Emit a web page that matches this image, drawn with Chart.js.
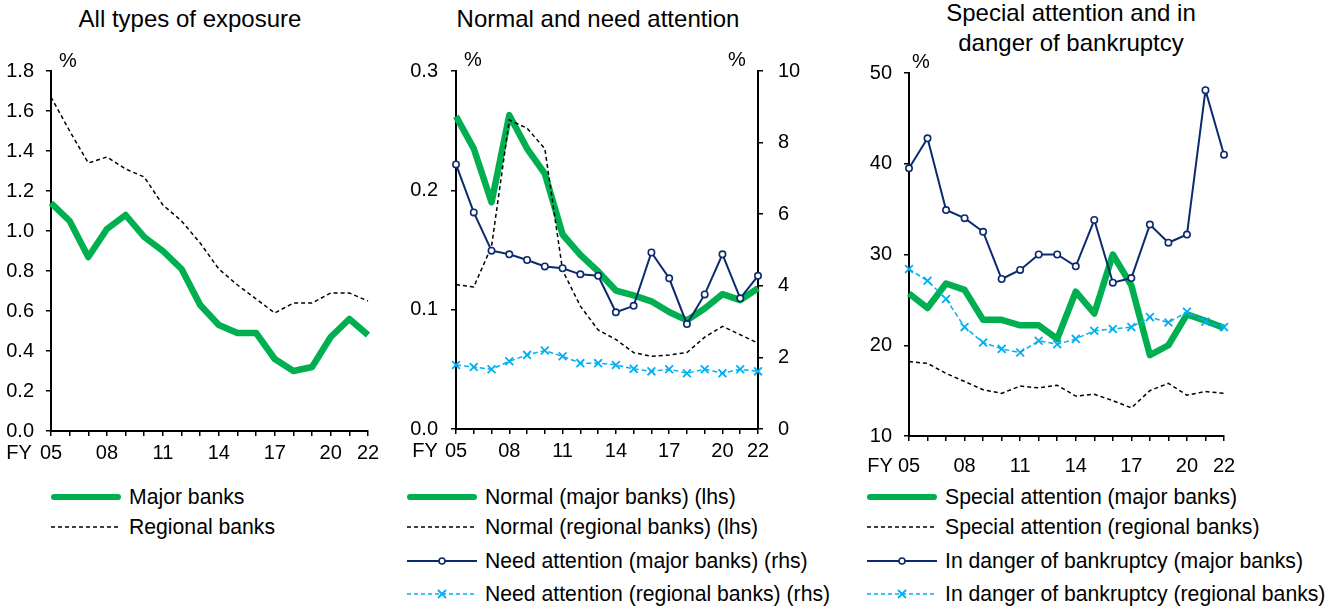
<!DOCTYPE html>
<html><head><meta charset="utf-8">
<script src="https://cdn.jsdelivr.net/npm/chart.js@4.4.0/dist/chart.umd.min.js"></script>
<style>
body{margin:0;width:1330px;height:607px;background:#fff;position:relative;overflow:hidden;font-family:'Liberation Sans',Arial,sans-serif;color:#000;}
.title{position:absolute;font-size:24px;line-height:30px;text-align:center;white-space:nowrap;transform:translateX(-50%);}
canvas{position:absolute;top:0;}
.leg{position:absolute;font-size:21.2px;line-height:24px;height:24px;white-space:nowrap;display:flex;align-items:center;}
.leg svg{margin-right:8px;flex:none;}
</style></head><body>
<div class="title" style="left:190px;top:4px;">All types of exposure</div>
<div class="title" style="left:598px;top:4px;">Normal and need attention</div>
<div class="title" style="left:1071px;top:-2px;">Special attention and in<br>danger of bankruptcy</div>
<canvas id="c1" width="400" height="475" style="left:0px"></canvas>
<canvas id="c2" width="430" height="475" style="left:400px"></canvas>
<canvas id="c3" width="440" height="475" style="left:850px"></canvas>
<div id="legends"></div>
<script>
// ---- data ----
const years = ['05','06','07','08','09','10','11','12','13','14','15','16','17','18','19','20','21','22'];
const shownYears = ['05','08','11','14','17','20','22'];

const allMajor    = [1.14,1.05,0.87,1.01,1.08,0.97,0.90,0.81,0.63,0.53,0.49,0.49,0.36,0.30,0.32,0.47,0.56,0.48];
const allRegional = [1.67,1.50,1.34,1.37,1.31,1.27,1.13,1.05,0.94,0.81,0.73,0.66,0.59,0.64,0.64,0.69,0.69,0.65];

const normalMajor    = [0.262,0.235,0.190,0.263,0.235,0.214,0.163,0.146,0.132,0.116,0.112,0.107,0.098,0.091,0.101,0.113,0.108,0.118];
const normalRegional = [0.121,0.119,0.153,0.259,0.252,0.235,0.133,0.103,0.083,0.075,0.064,0.061,0.062,0.064,0.077,0.086,0.079,0.072];
const needMajor      = [7.39,6.05,4.98,4.88,4.72,4.54,4.49,4.32,4.28,3.26,3.44,4.93,4.21,2.93,3.76,4.88,3.65,4.28];
const needRegional   = [1.79,1.73,1.67,1.89,2.07,2.19,2.03,1.84,1.84,1.79,1.68,1.61,1.67,1.56,1.67,1.56,1.67,1.61];

const specialMajor    = [25.7,24.1,26.8,26.1,22.8,22.8,22.2,22.2,20.7,25.9,23.5,30.0,26.6,18.9,20.0,23.4,22.7,21.9];
const specialRegional = [18.2,18.0,16.9,16.0,15.1,14.7,15.5,15.3,15.6,14.4,14.6,13.9,13.1,15.0,15.8,14.5,14.9,14.7];
const dangerMajor     = [39.5,42.8,34.9,34.0,32.5,27.3,28.3,30.0,30.0,28.7,33.8,26.9,27.4,33.3,31.3,32.2,48.1,41.0];
const dangerRegional  = [28.4,27.1,25.1,22.0,20.3,19.6,19.2,20.5,20.1,20.7,21.6,21.8,22.0,23.1,22.5,23.7,22.6,22.0];

// ---- styles ----
const FONT = "'Liberation Sans', Arial, sans-serif";
const GREEN = '#00B050', NAVY = '#0C2A6E', CYAN = '#00B0F0', BLACK = '#000000';

function dsGreen(label, data, axis){ return {label, data, yAxisID:axis||'y', borderColor:GREEN, borderWidth:6.5, pointRadius:0, borderJoinStyle:'round', borderCapStyle:'butt', order:4}; }
function dsDash(label, data, axis){ return {label, data, yAxisID:axis||'y', borderColor:BLACK, borderWidth:1.5, borderDash:[4,3], pointRadius:0, order:3}; }
function dsNavy(label, data, axis){ return {label, data, yAxisID:axis||'y', borderColor:NAVY, borderWidth:2, pointRadius:3.2, pointStyle:'circle', pointBackgroundColor:'#fff', pointBorderColor:NAVY, pointBorderWidth:1.6, order:2}; }
function dsCyan(label, data, axis){ return {label, data, yAxisID:axis||'y', borderColor:CYAN, borderWidth:1.5, borderDash:[5,3], pointRadius:5.5, pointStyle:'crossRot', pointBorderColor:CYAN, pointBorderWidth:1.8, order:1}; }

function xScale(h, pad){
  return {
    type:'category', offset:false,
    border:{display:true,color:BLACK,width:2},
    grid:{display:true,drawOnChartArea:false,drawTicks:true,tickLength:5,color:BLACK,lineWidth:1.5},
    ticks:{autoSkip:false,maxRotation:0,minRotation:0,padding:pad,color:BLACK,font:{family:FONT,size:20},
      callback:function(v,i){ return shownYears.includes(years[i]) ? years[i] : ''; }},
    afterFit:function(s){ s.height = h; }
  };
}
function yScale(pos, min, max, step, dec, w, pad){
  return {
    position:pos, min, max,
    border:{display:true,color:BLACK,width:2},
    grid:{display:true,drawOnChartArea:false,drawTicks:true,tickLength:5,color:BLACK,lineWidth:1.5},
    ticks:{stepSize:step,padding:pad,color:BLACK,font:{family:FONT,size:20},
      callback:function(v){ return Number(v).toFixed(dec); }},
    afterFit:function(s){ s.width = w; }
  };
}

const annotPlugin = {
  id:'annot',
  afterDraw(chart, args, opts){
    const ctx = chart.ctx, ca = chart.chartArea, xs = chart.scales.x;
    ctx.save();
    ctx.fillStyle = BLACK;
    ctx.font = '20px ' + FONT;
    ctx.textBaseline = 'middle';
    ctx.textAlign = 'center';
    (opts.pct||[]).forEach(p => {
      const x = p.side === 'right' ? ca.right + p.dx : ca.left + p.dx;
      ctx.fillText('%', x, ca.top + p.dy);
    });
    const ly = xs.top + 5 + opts.xpad + 12;
    ctx.fillText('FY', ca.left + opts.fyDx, ly);
    ctx.restore();
  }
};

function make(id, datasets, scales, padding, annot){
  new Chart(document.getElementById(id), {
    type:'line',
    data:{labels:years, datasets:datasets.map(d => Object.assign({tension:0, fill:false, clip:false}, d))},
    options:{
      responsive:false, animation:false, devicePixelRatio:1,
      layout:{padding},
      plugins:{legend:{display:false}, tooltip:{enabled:false}, annot},
      scales
    },
    plugins:[annotPlugin]
  });
}

make('c1',
  [dsGreen('Major banks', allMajor), dsDash('Regional banks', allRegional)],
  {x:xScale(44,5), y:yScale('left',0,1.8,0.2,1,51,12)},
  {top:71,left:0,right:32,bottom:0},
  {pct:[{dx:17,dy:-10}], xpad:5, fyDx:-32});

make('c2',
  [dsGreen('Normal (major banks) (lhs)', normalMajor,'y'),
   dsDash('Normal (regional banks) (lhs)', normalRegional,'y'),
   dsNavy('Need attention (major banks) (rhs)', needMajor,'y2'),
   dsCyan('Need attention (regional banks) (rhs)', needRegional,'y2')],
  {x:xScale(46,5), y:yScale('left',0,0.3,0.1,1,56,13), y2:yScale('right',0,10,2,0,72,15)},
  {top:71,left:0,right:0,bottom:0},
  {pct:[{dx:17,dy:-11},{side:'right',dx:-21,dy:-11}], xpad:5, fyDx:-31});

make('c3',
  [dsGreen('Special attention (major banks)', specialMajor),
   dsDash('Special attention (regional banks)', specialRegional),
   dsNavy('In danger of bankruptcy (major banks)', dangerMajor),
   dsCyan('In danger of bankruptcy (regional banks)', dangerRegional)],
  {x:xScale(39,13), y:yScale('left',10,50,10,0,59,12)},
  {top:73,left:0,right:66,bottom:0},
  {pct:[{dx:12,dy:-11}], xpad:13, fyDx:-29});

// ---- legends (HTML text with small line samples) ----
function sample(kind){
  const W=70,H=14,m=7;
  let s = `<svg width="${W}" height="${H}">`;
  if(kind==='green') s += `<line x1="3" y1="${m}" x2="${W-3}" y2="${m}" stroke="${GREEN}" stroke-width="6" stroke-linecap="round"/>`;
  if(kind==='dash') s += `<line x1="0" y1="${m}" x2="${W}" y2="${m}" stroke="#000" stroke-width="1.5" stroke-dasharray="4,3"/>`;
  if(kind==='navy') s += `<line x1="0" y1="${m}" x2="${W}" y2="${m}" stroke="${NAVY}" stroke-width="2"/><circle cx="${W/2}" cy="${m}" r="3" fill="#fff" stroke="${NAVY}" stroke-width="1.6"/>`;
  if(kind==='cyan') s += `<line x1="0" y1="${m}" x2="${W}" y2="${m}" stroke="${CYAN}" stroke-width="1.5" stroke-dasharray="4,3"/><line x1="${W/2-4}" y1="${m-4}" x2="${W/2+4}" y2="${m+4}" stroke="${CYAN}" stroke-width="1.8"/><line x1="${W/2-4}" y1="${m+4}" x2="${W/2+4}" y2="${m-4}" stroke="${CYAN}" stroke-width="1.8"/>`;
  return s + '</svg>';
}
const legendRows = [
  [51, 497, 'green', 'Major banks'],
  [51, 527, 'dash', 'Regional banks'],
  [407, 497, 'green', 'Normal (major banks) (lhs)'],
  [407, 527, 'dash', 'Normal (regional banks) (lhs)'],
  [407, 561, 'navy', 'Need attention (major banks) (rhs)'],
  [407, 594, 'cyan', 'Need attention (regional banks) (rhs)'],
  [867, 497, 'green', 'Special attention (major banks)'],
  [867, 527, 'dash', 'Special attention (regional banks)'],
  [867, 561, 'navy', 'In danger of bankruptcy (major banks)'],
  [867, 594, 'cyan', 'In danger of bankruptcy (regional banks)']
];
const lg = document.getElementById('legends');
legendRows.forEach(r => {
  const d = document.createElement('div');
  d.className = 'leg';
  d.style.left = r[0] + 'px';
  d.style.top = (r[1] - 12) + 'px';
  d.innerHTML = sample(r[2]) + '<span>' + r[3] + '</span>';
  lg.appendChild(d);
});
</script>
</body></html>
